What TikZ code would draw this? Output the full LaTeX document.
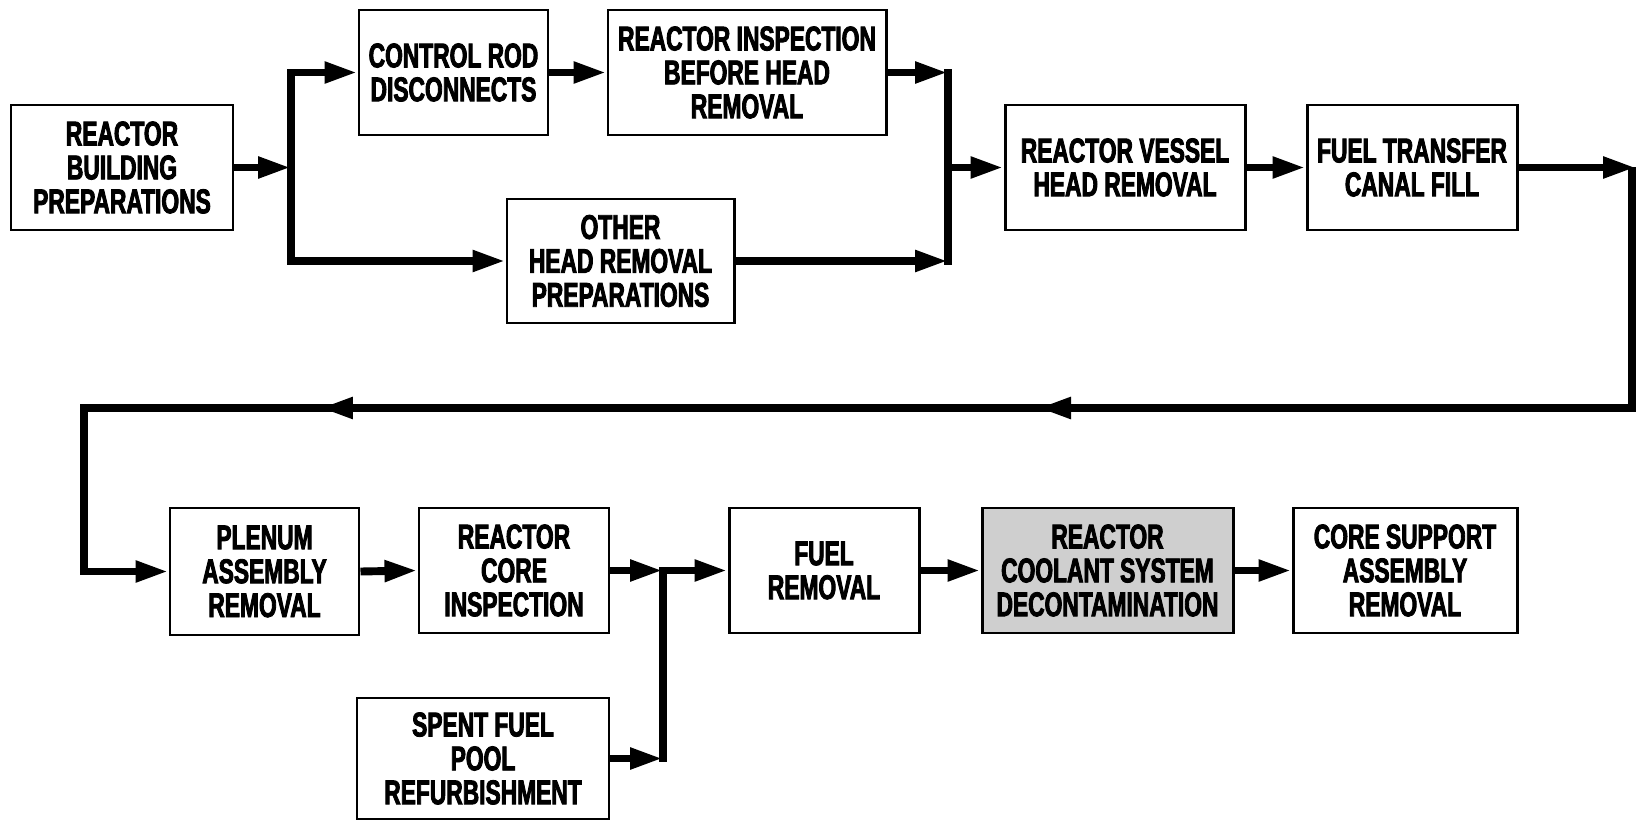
\documentclass[tikz,border=0pt]{standalone}
\usepackage{fontspec}
\newfontfamily\boxfont{Liberation Sans}[FakeStretch=0.665, BoldFeatures={FakeBold=2.5}]
\usetikzlibrary{arrows.meta,fit}

\begin{document}
\begin{tikzpicture}[x=0.02cm,y=-0.02cm,
  stepbox/.style={draw=black, line width=1.7pt, fill=white, inner sep=0pt},
  boxtext/.style={inner sep=0pt, align=center,
    font=\boxfont\bfseries\fontsize{19.5}{19.3}\selectfont},
  flow/.style={line width=4.5pt, line join=miter,
    -{Triangle[length=0.66cm,width=0.4cm]}},
  bar/.style={line width=4.5pt, line join=miter, line cap=rect}
]
\useasboundingbox (0,0) rectangle (1637,821);

% first row
\node[stepbox, fit={(11,105) (233,230)}] (rbp) {};
\node[stepbox, fit={(359,10) (548,135)}] (crd) {};
\node[stepbox, fit={(608,10) (886,135)}] (rib) {};
\node[stepbox, fit={(507,199) (734,323)}] (oth) {};
\node[stepbox, fit={(1005,105) (1245,230)}] (rvh) {};
\node[stepbox, fit={(1307,105) (1517,230)}] (ftc) {};

% second row
\node[stepbox, fit={(170,508) (359,635)}] (par) {};
\node[stepbox, fit={(419,508) (609,633)}] (rci) {};
\node[stepbox, fit={(357,698) (609,819)}] (sfp) {};
\node[stepbox, fit={(729,508) (919,633)}] (fr) {};
\node[stepbox, fit={(982,508) (1233,633)}, fill=black!19] (rcs) {};
\node[stepbox, fit={(1293,508) (1517,633)}] (csa) {};

% box captions
\node[boxtext] (trbp) at (rbp.center) {REACTOR\\BUILDING\\PREPARATIONS};
\node[boxtext] (tcrd) at (crd.center) {CONTROL ROD\\DISCONNECTS};
\node[boxtext] (trib) at (rib.center) {REACTOR INSPECTION\\BEFORE HEAD\\REMOVAL};
\node[boxtext] (toth) at (oth.center) {OTHER\\HEAD REMOVAL\\PREPARATIONS};
\node[boxtext] (trvh) at (rvh.center) {REACTOR VESSEL\\HEAD REMOVAL};
\node[boxtext] (tftc) at (ftc.center) {FUEL TRANSFER\\CANAL FILL};
\node[boxtext] (tpar) at (par.center) {PLENUM\\ASSEMBLY\\REMOVAL};
\node[boxtext] (trci) at (rci.center) {REACTOR\\CORE\\INSPECTION};
\node[boxtext] (tsfp) at (sfp.center) {SPENT FUEL\\POOL\\REFURBISHMENT};
\node[boxtext] (tfr) at (fr.center) {FUEL\\REMOVAL};
\node[boxtext] (trcs) at (rcs.center) {REACTOR\\COOLANT SYSTEM\\DECONTAMINATION};
\node[boxtext] (tcsa) at (csa.center) {CORE SUPPORT\\ASSEMBLY\\REMOVAL};

% branch points
\coordinate (lf) at (291,0);
\coordinate (rf) at (948,0);
\coordinate (rr) at (1632,0);
\coordinate (ret) at (0,408);
\coordinate (ll) at (84,0);
\coordinate (jn) at (663,0);
\coordinate (ra) at (1038,408);
\coordinate (ra2) at (1090,408);
\coordinate (rb) at (320,408);
\coordinate (rb2) at (372,408);
\coordinate (fe) at (1636,0);

% split after building preparations
\draw[bar] (crd.west -| lf) -- (oth.west -| lf);
\draw[flow] (rbp.east) -- (rbp.east -| lf);
\draw[flow] (crd.west -| lf) -- (crd.west);
\draw[flow] (oth.west -| lf) -- (oth.west);
\draw[flow] (crd.east) -- (rib.west);

% merge before head removal
\draw[bar] (rib.east -| rf) -- (oth.east -| rf);
\draw[flow] (rib.east) -- (rib.east -| rf);
\draw[flow] (oth.east) -- (oth.east -| rf);
\draw[flow] (rvh.west -| rf) -- (rvh.west);
\draw[flow] (rvh.east) -- (ftc.west);

% return line to the second row
\draw[flow] (ftc.east) -- (ftc.east -| fe);
\draw[flow] (ftc.east -| rr) -- (ret -| rr) -- (ret -| ll) -- (par.west -| ll) -- (par.west);
\draw[flow] (ra2) -- (ra);
\draw[flow] (rb2) -- (rb);

% second row flow
\draw[flow] (par.east) -- (rci.west);
\draw[bar] (rci.east -| jn) -- (sfp.east -| jn);
\draw[flow] (rci.east) -- (rci.east -| jn);
\draw[flow] (sfp.east) -- (sfp.east -| jn);
\draw[flow] (fr.west -| jn) -- (fr.west);
\draw[flow] (fr.east) -- (rcs.west);
\draw[flow] (rcs.east) -- (csa.west);
\end{tikzpicture}
\end{document}
